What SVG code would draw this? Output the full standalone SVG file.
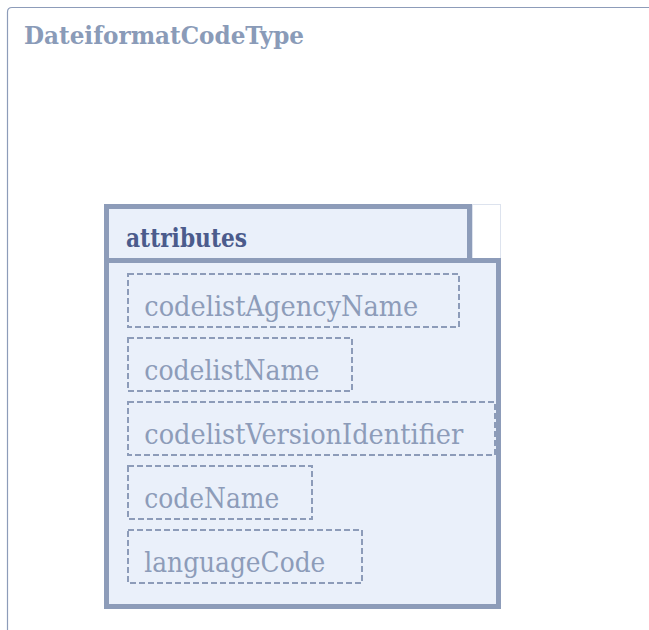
<svg xmlns="http://www.w3.org/2000/svg" width="649" height="630" viewBox="0 0 649 630">
<style>
.frame{fill:none;stroke:#8d9cb9;stroke-width:1.2}
.title{font-family:"DejaVu Serif Condensed","DejaVu Serif",serif;font-weight:bold;font-size:24.5px;fill:#8a9bb8}
.box{fill:#eaf0fa;stroke:#8d9cb9;stroke-width:5}
.hdr{font-family:"DejaVu Serif Condensed","DejaVu Serif",serif;font-weight:bold;font-size:26px;fill:#4b5b8c}
.attr{fill:none;stroke:#8d9cb9;stroke-width:2;stroke-dasharray:6 3}
.lbl{font-family:"DejaVu Serif Condensed","DejaVu Serif",serif;font-size:28px;fill:#8d9cb9}
</style>
<g id="frame">
<path class="frame" d="M7.5,630 V12 Q7.5,7.5 12,7.5 H649"/>
<text class="title" x="24" y="44.3" textLength="280" lengthAdjust="spacingAndGlyphs">DateiformatCodeType</text>
</g>
<g id="attributes">
<rect x="472.5" y="204.5" width="28" height="54" fill="#ffffff" stroke="#dde3ee" stroke-width="1"/>
<rect class="box" x="106.5" y="260.5" width="392" height="346"/>
<rect class="box" x="106.5" y="206.5" width="363" height="54"/>
<text class="hdr" x="126" y="246.7" textLength="121" lengthAdjust="spacingAndGlyphs">attributes</text>
</g>
<g id="codelistAgencyName">
<rect class="attr" x="128" y="274" width="331" height="53"/>
<text class="lbl" x="144.3" y="316" textLength="274" lengthAdjust="spacingAndGlyphs">codelistAgencyName</text>
</g>
<g id="codelistName">
<rect class="attr" x="128" y="338" width="224" height="53"/>
<text class="lbl" x="144.3" y="380" textLength="175" lengthAdjust="spacingAndGlyphs">codelistName</text>
</g>
<g id="codelistVersionIdentifier">
<rect class="attr" x="128" y="402" width="367" height="53"/>
<text class="lbl" x="144.3" y="444" textLength="319" lengthAdjust="spacingAndGlyphs">codelistVersionIdentifier</text>
</g>
<g id="codeName">
<rect class="attr" x="128" y="466" width="184" height="53"/>
<text class="lbl" x="144.3" y="508" textLength="135" lengthAdjust="spacingAndGlyphs">codeName</text>
</g>
<g id="languageCode">
<rect class="attr" x="128" y="530" width="234" height="53"/>
<text class="lbl" x="144.3" y="572" textLength="181" lengthAdjust="spacingAndGlyphs">languageCode</text>
</g>
<g id="connectors"/>
</svg>
